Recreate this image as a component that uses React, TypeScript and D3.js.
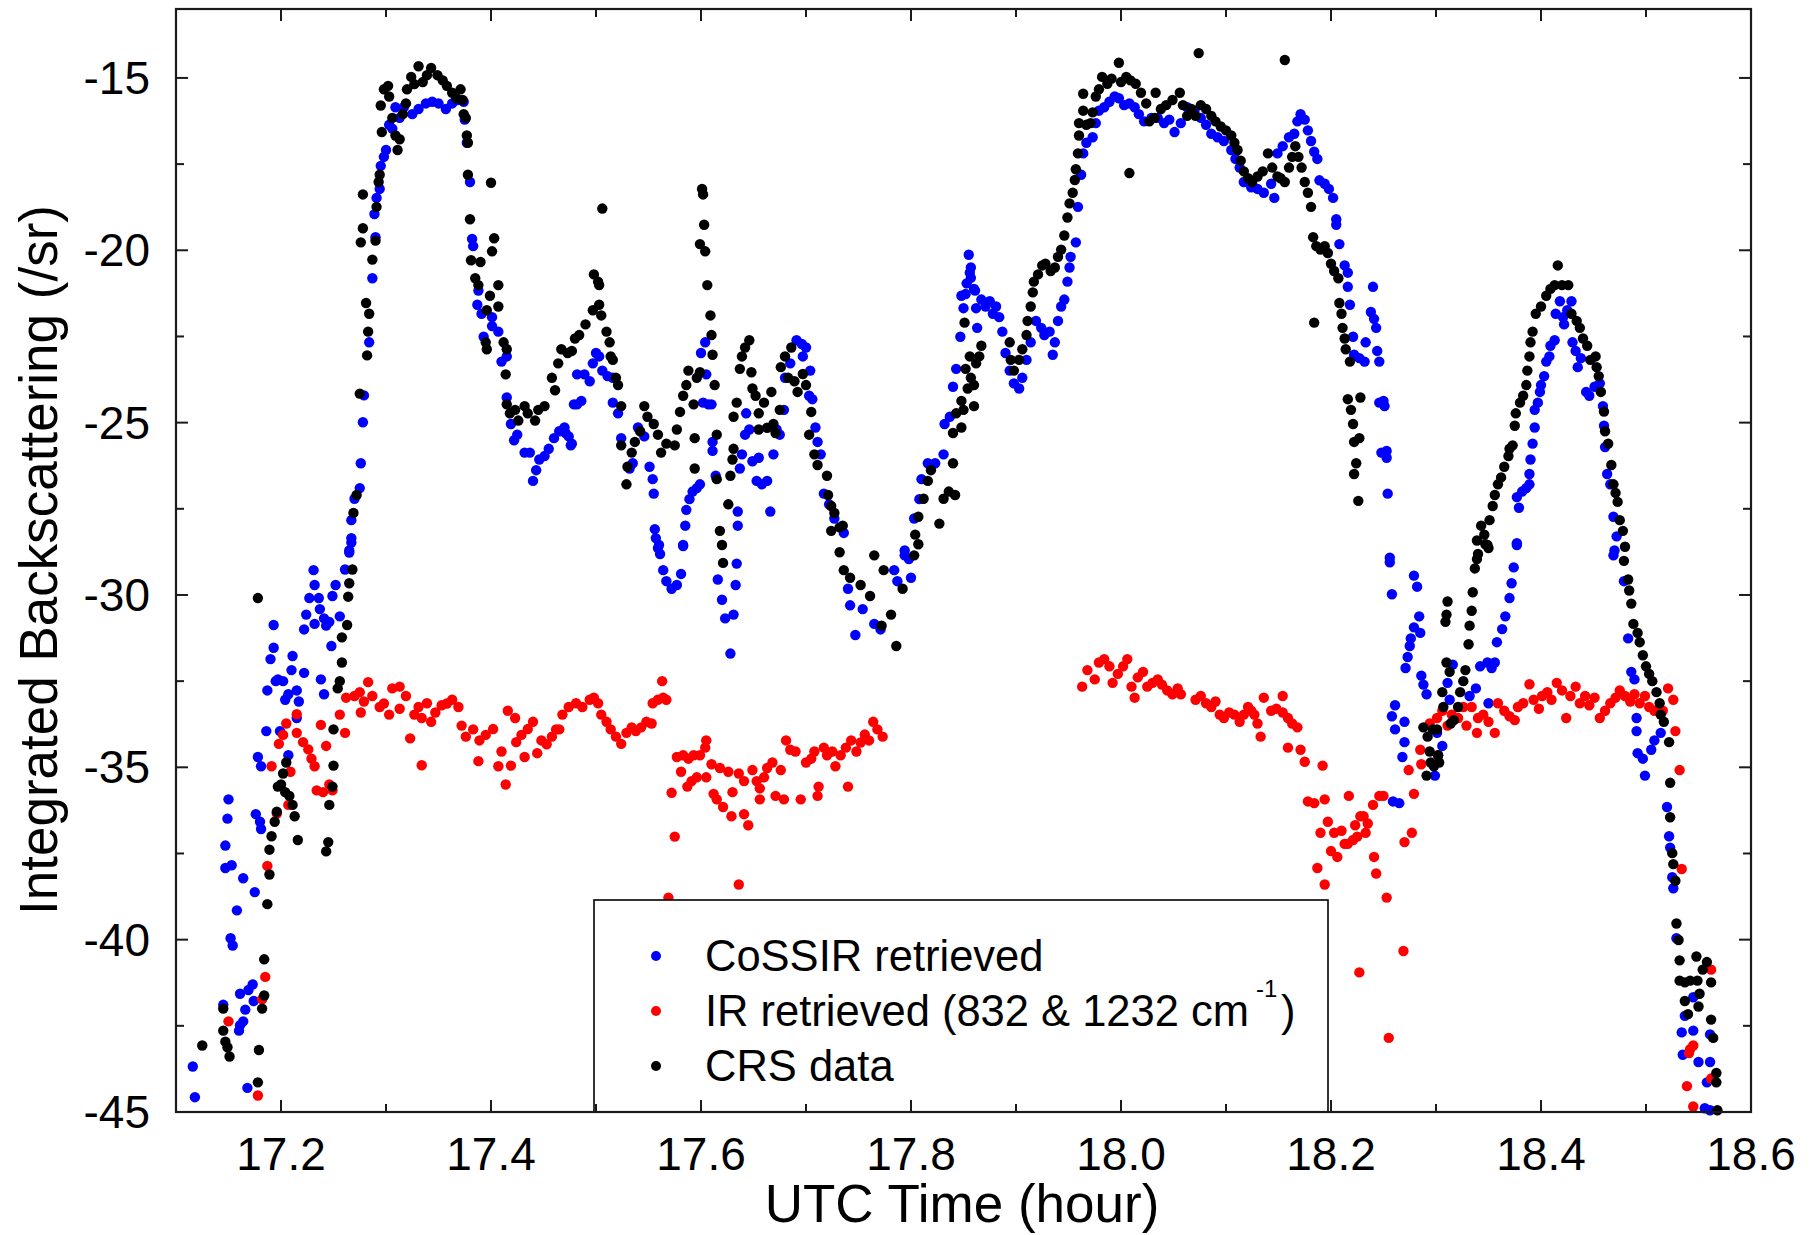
import React from 'react';
import * as d3 from 'd3';

// ---------- axis ticks ----------
const xMajorTicks = [17.2, 17.4, 17.6, 17.8, 18.0, 18.2, 18.4, 18.6];
const xTickLabels = ['17.2', '17.4', '17.6', '17.8', '18.0', '18.2', '18.4', '18.6'];
const xMinorTicks = [17.3, 17.5, 17.7, 17.9, 18.1, 18.3, 18.5];
const yMajorTicks = [-15, -20, -25, -30, -35, -40, -45];
const yTickLabels = ['-15', '-20', '-25', '-30', '-35', '-40', '-45'];
const yMinorTicks = [-17.5, -22.5, -27.5, -32.5, -37.5, -42.5];
const xDomain = [17.1, 18.6];
const yDomain = [-45, -13];

// ---------- series: [UTC hour, integrated backscattering] ----------
const cossirPoints: [number, number][] = [
  [17.116, -43.68], [17.118, -44.57], [17.145, -41.89], [17.16, -42.64], [17.161, -42.48], [17.164, -42.37],
  [17.166, -42.03], [17.161, -41.57], [17.169, -41.46], [17.173, -41.3], [17.174, -41.78], [17.168, -44.3],
  [17.15, -35.93], [17.149, -36.49], [17.147, -37.27], [17.147, -37.92], [17.153, -37.84], [17.164, -38.22],
  [17.175, -38.62], [17.158, -39.15], [17.152, -39.96], [17.154, -40.17], [17.193, -30.87], [17.193, -31.53],
  [17.19, -31.86], [17.197, -32.45], [17.187, -32.77], [17.195, -32.5], [17.202, -32.5], [17.204, -33.04],
  [17.207, -32.88], [17.211, -31.77], [17.21, -32.18], [17.222, -32.26], [17.215, -32.77], [17.217, -33.09],
  [17.215, -33.57], [17.186, -33.95], [17.199, -33.95], [17.207, -34.65], [17.178, -34.7], [17.181, -34.97],
  [17.176, -36.36], [17.18, -36.58], [17.181, -36.79], [17.231, -29.28], [17.232, -29.71], [17.227, -30.09],
  [17.236, -30.09], [17.237, -30.41], [17.224, -30.57], [17.222, -31.0], [17.232, -30.84], [17.241, -30.68],
  [17.246, -30.78], [17.243, -30.89], [17.249, -30.03], [17.252, -29.71], [17.256, -30.62], [17.248, -31.48],
  [17.261, -29.26], [17.265, -28.77], [17.267, -28.48], [17.238, -32.45], [17.241, -32.88],
  [17.265, -28.71], [17.267, -28.35], [17.267, -27.83], [17.27, -27.21], [17.275, -26.9], [17.276, -26.18],
  [17.278, -24.99], [17.279, -24.21], [17.284, -22.67], [17.287, -20.81], [17.29, -19.62], [17.289, -18.95],
  [17.291, -18.48], [17.294, -18.22], [17.295, -17.55], [17.298, -17.29], [17.3, -17.09], [17.303, -16.36],
  [17.306, -16.47], [17.309, -15.85], [17.313, -16.16], [17.317, -15.85], [17.325, -16.05], [17.331, -15.9],
  [17.338, -15.74], [17.344, -15.69], [17.35, -15.74], [17.357, -15.9], [17.363, -15.74], [17.368, -15.64],
  [17.374, -15.69], [17.375, -16.21], [17.377, -16.88], [17.38, -18.02], [17.382, -19.67], [17.383, -19.88],
  [17.388, -21.17], [17.387, -21.58], [17.391, -21.84], [17.393, -22.51], [17.401, -21.94], [17.401, -22.2],
  [17.407, -22.36], [17.41, -23.23], [17.415, -23.08], [17.415, -24.27], [17.419, -25.04], [17.422, -25.51],
  [17.425, -25.35], [17.432, -25.87], [17.437, -25.87], [17.44, -26.69], [17.443, -26.38], [17.446, -26.07],
  [17.451, -25.97], [17.455, -25.76], [17.46, -25.45], [17.465, -25.25], [17.471, -25.3], [17.476, -25.66],
  [17.479, -24.47], [17.482, -23.6], [17.47, -25.14], [17.474, -25.4], [17.477, -25.61], [17.482, -24.47],
  [17.486, -24.37], [17.489, -23.6], [17.494, -23.8], [17.497, -23.28], [17.5, -22.98], [17.503, -23.08],
  [17.506, -23.49], [17.511, -23.65], [17.516, -23.7], [17.516, -24.42], [17.521, -24.73], [17.524, -25.45],
  [17.532, -26.33], [17.535, -26.18], [17.54, -25.14], [17.546, -25.4], [17.551, -26.28], [17.554, -26.64],
  [17.555, -27.06], [17.556, -28.09], [17.557, -28.35], [17.56, -28.55], [17.561, -28.81], [17.583, -28.55],
  [17.585, -27.99], [17.586, -27.53], [17.589, -27.22], [17.592, -27.0], [17.596, -26.9], [17.599, -26.79],
  [17.602, -24.42], [17.607, -24.47], [17.61, -24.47], [17.605, -23.6], [17.6, -22.98], [17.604, -22.67],
  [17.611, -25.56], [17.611, -25.82], [17.614, -26.54], [17.635, -27.58], [17.635, -27.99], [17.637, -26.33],
  [17.639, -25.92], [17.642, -25.35], [17.643, -24.73], [17.646, -25.2], [17.649, -26.12], [17.655, -26.02],
  [17.653, -26.69], [17.658, -26.79], [17.663, -26.69], [17.666, -27.58], [17.669, -25.92], [17.672, -25.2],
  [17.675, -25.35], [17.679, -24.63], [17.68, -23.7], [17.685, -23.28], [17.691, -22.61], [17.696, -22.72],
  [17.7, -22.82], [17.697, -23.08], [17.704, -23.49], [17.703, -24.22], [17.706, -24.32], [17.709, -25.14],
  [17.711, -25.56], [17.714, -25.92], [17.717, -27.06], [17.722, -27.37], [17.727, -27.78], [17.736, -28.2],
  [17.559, -28.64], [17.564, -29.28], [17.567, -29.6], [17.572, -29.82], [17.577, -29.71], [17.581, -29.39],
  [17.583, -28.58], [17.616, -29.55], [17.62, -30.14], [17.623, -30.68], [17.631, -30.57], [17.628, -31.7],
  [17.633, -29.71], [17.634, -29.09], [17.74, -29.82], [17.742, -30.3], [17.747, -31.16], [17.754, -30.41],
  [17.765, -30.84], [17.771, -31.0], [17.784, -29.28], [17.787, -29.6], [17.794, -28.85], [17.8, -29.5],
  [17.798, -28.96], [17.794, -28.71], [17.803, -27.78], [17.808, -27.22], [17.81, -26.64], [17.816, -26.18],
  [17.823, -26.18], [17.831, -25.92], [17.832, -25.04], [17.837, -24.83], [17.84, -23.96], [17.843, -23.44],
  [17.847, -22.51], [17.85, -21.68], [17.852, -21.27], [17.853, -20.96], [17.856, -20.65], [17.855, -20.13],
  [17.861, -21.17], [17.862, -21.68], [17.848, -21.32], [17.857, -20.5], [17.857, -20.8], [17.86, -21.12],
  [17.863, -22.25], [17.867, -21.43], [17.871, -21.63], [17.875, -21.48], [17.878, -21.84], [17.881, -21.63],
  [17.884, -21.94], [17.887, -22.36], [17.89, -22.98], [17.894, -23.49], [17.898, -23.86], [17.903, -24.01],
  [17.906, -23.7], [17.91, -23.18], [17.914, -22.67], [17.919, -22.05], [17.924, -22.25], [17.927, -22.46],
  [17.932, -22.36], [17.935, -23.03], [17.937, -22.67], [17.94, -22.05], [17.943, -21.63], [17.946, -21.43],
  [17.949, -20.91], [17.951, -20.5], [17.952, -20.19], [17.957, -19.77], [17.959, -18.74], [17.962, -17.81],
  [17.964, -17.19], [17.967, -16.88], [17.973, -16.72], [17.976, -16.31], [17.979, -15.95], [17.984, -15.85],
  [17.989, -15.69], [17.994, -15.54], [17.998, -15.59], [18.003, -15.79], [18.008, -15.74], [18.013, -15.85],
  [18.017, -16.05], [18.022, -16.26], [18.029, -16.16], [18.035, -16.16], [18.041, -16.31], [18.046, -16.21],
  [18.051, -16.57], [18.057, -16.31], [18.063, -15.85], [18.07, -15.95], [18.076, -16.16], [18.081, -16.36],
  [18.086, -16.62], [18.092, -16.72], [18.098, -16.83], [18.105, -17.09], [18.109, -17.35], [18.113, -17.6],
  [18.117, -18.02], [18.124, -18.17], [18.13, -18.22], [18.136, -18.33], [18.143, -18.07], [18.146, -18.48],
  [18.149, -17.19], [18.154, -16.98], [18.16, -16.72], [18.165, -16.62], [18.168, -16.26], [18.171, -16.05],
  [18.175, -16.21], [18.178, -16.52], [18.181, -16.83], [18.184, -17.14], [18.187, -17.35], [18.189, -17.97],
  [18.194, -18.07], [18.198, -18.22], [18.202, -18.48], [18.205, -19.1], [18.205, -19.26], [18.208, -19.82],
  [18.213, -20.44], [18.216, -20.65], [18.216, -21.06], [18.218, -21.58], [18.221, -22.51], [18.222, -23.03],
  [18.227, -23.13], [18.232, -23.23], [18.233, -22.67], [18.238, -21.79], [18.241, -21.99], [18.243, -22.25],
  [18.24, -21.06], [18.244, -22.92], [18.246, -23.23], [18.246, -24.42], [18.248, -25.87], [18.25, -24.37],
  [18.251, -24.52], [18.253, -25.82], [18.253, -26.02], [18.254, -27.06], [18.256, -28.92], [18.377, -28.5],
  [18.379, -27.47], [18.377, -27.16], [18.382, -27.0], [18.386, -26.9], [18.389, -26.79], [18.389, -26.49],
  [18.39, -26.07], [18.392, -25.61], [18.394, -25.14], [18.394, -24.63], [18.397, -24.42], [18.399, -24.11],
  [18.4, -23.91], [18.403, -23.65], [18.405, -23.23], [18.408, -23.08], [18.409, -22.77], [18.413, -22.61],
  [18.414, -21.84], [18.418, -21.48], [18.421, -21.94], [18.422, -22.15], [18.425, -21.74], [18.429, -21.48],
  [18.43, -22.67], [18.433, -22.92], [18.435, -23.39], [18.438, -23.13], [18.443, -24.11], [18.446, -24.22],
  [18.451, -23.96], [18.456, -23.86], [18.459, -24.52], [18.46, -25.09], [18.461, -25.71], [18.463, -26.49],
  [18.466, -26.79], [18.469, -27.73], [18.472, -28.3], [18.47, -28.71], [18.256, -29.05], [18.258, -29.98],
  [18.279, -29.44], [18.282, -29.76], [18.284, -30.62], [18.279, -30.94], [18.285, -31.1], [18.276, -31.26],
  [18.275, -31.48], [18.273, -31.8], [18.271, -32.12], [18.286, -32.34], [18.288, -32.6], [18.291, -32.88],
  [18.261, -33.2], [18.258, -33.52], [18.27, -33.68], [18.261, -33.9], [18.27, -34.27], [18.268, -34.7],
  [18.259, -35.99], [18.265, -36.04], [18.301, -34.0], [18.306, -34.38], [18.302, -34.65], [18.299, -35.24],
  [18.311, -32.55], [18.313, -33.04], [18.316, -32.02], [18.332, -32.93], [18.338, -32.71], [18.342, -32.07],
  [18.349, -31.96], [18.353, -32.12], [18.356, -31.96], [18.358, -31.37], [18.363, -30.99], [18.366, -30.62],
  [18.37, -30.09], [18.372, -29.66], [18.374, -29.2], [18.377, -28.55], [18.35, -33.14], [18.469, -28.85],
  [18.479, -29.6], [18.483, -31.26], [18.486, -32.23], [18.489, -32.45], [18.491, -33.57], [18.491, -33.95],
  [18.492, -34.59], [18.497, -34.75], [18.499, -35.24], [18.505, -34.49], [18.508, -34.22], [18.514, -34.0],
  [18.52, -36.15], [18.522, -37.0], [18.523, -37.33], [18.525, -38.19], [18.526, -38.51], [18.529, -39.96],
  [18.545, -41.67], [18.537, -42.21], [18.534, -42.69], [18.545, -42.64], [18.535, -43.34], [18.55, -43.55],
  [18.561, -42.75], [18.561, -43.55], [18.558, -44.14], [18.556, -44.89], [18.561, -44.95],
];

const irPoints: [number, number][] = [
  [17.15, -42.37], [17.178, -44.52], [17.185, -41.08], [17.182, -41.73], [17.187, -37.86], [17.196, -36.34],
  [17.191, -34.97], [17.198, -34.32], [17.202, -34.06], [17.205, -33.73], [17.209, -35.13], [17.207, -36.09],
  [17.215, -33.46], [17.215, -34.0], [17.221, -34.27], [17.226, -34.48], [17.229, -34.75], [17.232, -34.97],
  [17.234, -35.67], [17.24, -35.72], [17.246, -35.5], [17.249, -35.67], [17.238, -33.77], [17.243, -34.38],
  [17.256, -33.47], [17.261, -34.0], [17.262, -32.98], [17.27, -32.93], [17.275, -32.82], [17.276, -33.41],
  [17.279, -33.09], [17.283, -32.53], [17.287, -32.93], [17.294, -33.25], [17.298, -33.15], [17.303, -33.47],
  [17.306, -32.71], [17.313, -32.66], [17.319, -32.93], [17.313, -33.3], [17.323, -34.16], [17.327, -33.47],
  [17.331, -33.25], [17.334, -33.57], [17.339, -33.14], [17.334, -34.94], [17.343, -33.68], [17.347, -33.41],
  [17.353, -33.2], [17.358, -33.15], [17.363, -33.04], [17.369, -33.25], [17.372, -33.79], [17.376, -34.11],
  [17.383, -33.9], [17.388, -34.82], [17.389, -34.22], [17.395, -34.06], [17.402, -33.89], [17.407, -34.97],
  [17.41, -34.54], [17.414, -35.5], [17.419, -34.95], [17.416, -33.36], [17.423, -33.57], [17.424, -34.27],
  [17.429, -34.06], [17.432, -34.7], [17.435, -33.89], [17.44, -33.68], [17.444, -34.59], [17.448, -34.22],
  [17.453, -34.33], [17.458, -34.11], [17.462, -33.9], [17.465, -33.9], [17.468, -33.47], [17.474, -33.25],
  [17.481, -33.14], [17.487, -33.25], [17.494, -33.04], [17.498, -32.98], [17.502, -33.14], [17.505, -33.47],
  [17.51, -33.68], [17.514, -33.9], [17.519, -34.11], [17.524, -34.32], [17.529, -34.0], [17.534, -33.84],
  [17.538, -33.95], [17.543, -33.84], [17.548, -33.68], [17.553, -33.73], [17.554, -33.14], [17.559, -33.04],
  [17.564, -32.98], [17.563, -32.5], [17.567, -33.04], [17.572, -35.74], [17.575, -37.01], [17.569, -38.78],
  [17.577, -34.7], [17.583, -34.65], [17.581, -35.13], [17.588, -34.75], [17.593, -34.65], [17.587, -35.56],
  [17.591, -35.4], [17.596, -35.29], [17.599, -34.65], [17.604, -34.43], [17.605, -34.22], [17.605, -35.29],
  [17.61, -34.91], [17.612, -35.77], [17.615, -35.93], [17.618, -35.02], [17.621, -36.15], [17.626, -35.13],
  [17.629, -36.42], [17.63, -35.72], [17.636, -35.18], [17.636, -38.4], [17.641, -36.36], [17.645, -36.68],
  [17.641, -35.4], [17.649, -35.08], [17.653, -35.4], [17.656, -35.61], [17.656, -35.93], [17.66, -35.29],
  [17.663, -35.02], [17.668, -34.86], [17.671, -35.83], [17.676, -35.08], [17.679, -35.93], [17.681, -34.22],
  [17.685, -34.49], [17.69, -34.54], [17.695, -35.93], [17.7, -34.86], [17.705, -34.75], [17.708, -34.54],
  [17.711, -35.83], [17.712, -35.56], [17.717, -34.43], [17.72, -34.65], [17.725, -34.54], [17.728, -34.97],
  [17.733, -34.65], [17.738, -34.43], [17.74, -35.56], [17.743, -34.22], [17.748, -34.54], [17.752, -34.28],
  [17.756, -34.05], [17.76, -34.22], [17.764, -33.68], [17.768, -33.9], [17.773, -34.11],
  [17.963, -32.66], [17.968, -32.18], [17.975, -32.45], [17.979, -31.96], [17.984, -31.86], [17.989, -32.07],
  [17.992, -32.55], [17.997, -32.29], [18.002, -32.07], [18.006, -31.86], [18.01, -32.66], [18.013, -32.98],
  [18.016, -32.39], [18.021, -32.23], [18.025, -32.66], [18.03, -32.55], [18.035, -32.45], [18.039, -32.6],
  [18.044, -32.77], [18.049, -32.88], [18.054, -32.71], [18.057, -32.88], [18.071, -33.04], [18.076, -32.93],
  [18.081, -33.14], [18.086, -33.25], [18.09, -33.09], [18.094, -33.47], [18.098, -33.57], [18.103, -33.41],
  [18.108, -33.47], [18.113, -33.68], [18.117, -33.47], [18.121, -33.25], [18.124, -33.36], [18.127, -33.47],
  [18.13, -33.73], [18.133, -34.11], [18.136, -32.98], [18.143, -33.36], [18.148, -33.3], [18.154, -32.93],
  [18.154, -33.41], [18.159, -33.57], [18.163, -33.73], [18.168, -33.84], [18.159, -34.43], [18.171, -34.49],
  [18.175, -34.84], [18.192, -34.95], [18.178, -35.99], [18.184, -36.04], [18.194, -35.93], [18.197, -36.58],
  [18.19, -36.9], [18.2, -37.43], [18.206, -37.6], [18.187, -37.92], [18.194, -38.4], [18.203, -36.9],
  [18.21, -36.84], [18.216, -37.22], [18.221, -37.11], [18.217, -35.83], [18.225, -37.01], [18.228, -36.42],
  [18.233, -36.9], [18.235, -36.63], [18.24, -36.09], [18.241, -37.6], [18.243, -38.08], [18.246, -35.83],
  [18.227, -40.95], [18.213, -37.22], [18.223, -36.68], [18.231, -36.42], [18.25, -35.83], [18.253, -38.78],
  [18.269, -40.33], [18.255, -42.85], [18.27, -37.17], [18.277, -36.9], [18.279, -35.77], [18.274, -35.08],
  [18.286, -34.91], [18.285, -34.49], [18.294, -33.73], [18.301, -33.57], [18.306, -33.36], [18.311, -33.79],
  [18.315, -33.47], [18.321, -33.57], [18.326, -33.25], [18.329, -33.79], [18.334, -33.25], [18.339, -34.0],
  [18.34, -33.57], [18.345, -33.47], [18.35, -33.68], [18.356, -34.0], [18.359, -33.14], [18.365, -33.36],
  [18.37, -33.52], [18.375, -33.63], [18.378, -33.25], [18.383, -33.14], [18.389, -32.59], [18.393, -33.04],
  [18.398, -33.3], [18.401, -32.93], [18.406, -32.82], [18.41, -33.04], [18.415, -32.55], [18.42, -32.77],
  [18.424, -33.57], [18.428, -32.93], [18.433, -32.66], [18.437, -33.14], [18.442, -32.93], [18.446, -33.2],
  [18.451, -32.98], [18.456, -33.57], [18.461, -33.36], [18.466, -33.14], [18.471, -32.98], [18.475, -32.77],
  [18.48, -32.93], [18.485, -33.09], [18.489, -32.88], [18.494, -33.14], [18.499, -32.93], [18.503, -33.25],
  [18.508, -33.36], [18.516, -33.36], [18.521, -32.71], [18.526, -33.04], [18.528, -33.95], [18.532, -35.08],
  [18.534, -37.95], [18.542, -43.18], [18.545, -43.07], [18.541, -43.29], [18.539, -44.25], [18.545, -44.84],
  [18.562, -44.03], [18.562, -40.87],
];

const crsPoints: [number, number][] = [
  [17.125, -43.07], [17.145, -42.0], [17.145, -42.64], [17.147, -42.96], [17.149, -43.12], [17.151, -43.39],
  [17.178, -30.09], [17.179, -43.2], [17.178, -44.14], [17.184, -40.57], [17.184, -41.62], [17.182, -42.0],
  [17.187, -38.97], [17.189, -38.11], [17.189, -37.39], [17.191, -37.0], [17.194, -36.58], [17.196, -36.29],
  [17.197, -35.56], [17.2, -35.5], [17.204, -35.72], [17.202, -35.18], [17.205, -34.86], [17.208, -35.83],
  [17.211, -36.09], [17.213, -36.42], [17.216, -37.11], [17.243, -37.44], [17.245, -37.17], [17.246, -36.09],
  [17.249, -35.56], [17.25, -34.95], [17.25, -33.9], [17.254, -32.71], [17.256, -32.5], [17.258, -31.96],
  [17.258, -31.23], [17.263, -30.87], [17.264, -30.05], [17.265, -29.66], [17.268, -29.26],
  [17.269, -27.62], [17.272, -27.1], [17.275, -24.16], [17.276, -19.77], [17.278, -19.36], [17.278, -18.38],
  [17.282, -23.05], [17.283, -22.36], [17.284, -21.84], [17.281, -21.53], [17.287, -20.27], [17.29, -19.72],
  [17.291, -18.74], [17.293, -18.02], [17.294, -17.81], [17.295, -15.8], [17.296, -16.57], [17.298, -15.33],
  [17.302, -15.23], [17.303, -15.54], [17.306, -16.16], [17.309, -16.67], [17.311, -17.09], [17.313, -16.78],
  [17.316, -16.05], [17.319, -15.74], [17.32, -15.33], [17.324, -14.97], [17.327, -15.18], [17.331, -14.66],
  [17.335, -15.12], [17.339, -14.92], [17.343, -14.71], [17.349, -14.92], [17.354, -15.07], [17.358, -15.23],
  [17.363, -15.43], [17.367, -15.59], [17.371, -15.33], [17.373, -15.64], [17.374, -16.05], [17.376, -16.16],
  [17.377, -16.67], [17.378, -16.88], [17.378, -17.81], [17.38, -19.1], [17.4, -18.04], [17.381, -20.29],
  [17.39, -20.34], [17.385, -20.81], [17.388, -21.01], [17.403, -19.65], [17.401, -20.03], [17.396, -21.74],
  [17.399, -21.32], [17.407, -21.01], [17.407, -21.63], [17.395, -22.67], [17.396, -22.87], [17.412, -22.67],
  [17.415, -22.87], [17.414, -23.6], [17.415, -24.47], [17.418, -24.73], [17.423, -24.63], [17.426, -24.94],
  [17.432, -24.52], [17.435, -24.73], [17.442, -24.94], [17.445, -24.63], [17.451, -24.52], [17.458, -23.7],
  [17.461, -24.06], [17.464, -23.28], [17.467, -22.87], [17.473, -22.98], [17.48, -22.56], [17.477, -22.92],
  [17.484, -22.46], [17.49, -22.15], [17.497, -21.74], [17.498, -20.7], [17.502, -20.91], [17.503, -21.01],
  [17.506, -18.79], [17.503, -21.58], [17.505, -21.89], [17.51, -22.36], [17.513, -22.67], [17.514, -23.08],
  [17.516, -23.18], [17.519, -23.7], [17.521, -23.91], [17.524, -24.52], [17.524, -25.66], [17.529, -26.79],
  [17.53, -26.28], [17.534, -25.87], [17.537, -25.56], [17.542, -25.25], [17.546, -24.52], [17.549, -24.83],
  [17.555, -25.04], [17.559, -25.35], [17.562, -25.87], [17.567, -25.61], [17.575, -25.66], [17.577, -25.2],
  [17.58, -24.69], [17.583, -24.22], [17.586, -23.91], [17.588, -23.49], [17.593, -24.47], [17.594, -25.45],
  [17.594, -26.33], [17.596, -23.7], [17.599, -23.54], [17.601, -18.22], [17.602, -18.38], [17.603, -19.26],
  [17.599, -19.82], [17.604, -20.03], [17.606, -21.01], [17.609, -21.89], [17.61, -22.46], [17.611, -23.03],
  [17.613, -23.91], [17.615, -25.35], [17.615, -26.64], [17.618, -28.14], [17.62, -28.55], [17.621, -29.07],
  [17.626, -27.37], [17.628, -26.54], [17.63, -26.07], [17.631, -25.76], [17.631, -24.83], [17.634, -24.42],
  [17.637, -23.44], [17.639, -23.08], [17.642, -22.82], [17.646, -22.61], [17.648, -23.54], [17.649, -24.01],
  [17.652, -24.22], [17.655, -24.73], [17.655, -25.2], [17.66, -24.42], [17.663, -25.15], [17.667, -24.11],
  [17.669, -25.04], [17.671, -25.3], [17.675, -24.63], [17.676, -23.39], [17.68, -23.08], [17.683, -23.7],
  [17.686, -22.82], [17.689, -23.8], [17.692, -24.11], [17.697, -23.59], [17.7, -23.91], [17.705, -24.69],
  [17.703, -25.35], [17.708, -25.92], [17.711, -26.23], [17.72, -26.54], [17.721, -27.1], [17.724, -27.42],
  [17.727, -27.62], [17.732, -28.04], [17.735, -27.99], [17.724, -28.14], [17.732, -28.76], [17.736, -29.28],
  [17.742, -29.5], [17.752, -29.71], [17.761, -30.03], [17.772, -30.89], [17.786, -31.48], [17.781, -30.57],
  [17.792, -29.82], [17.803, -28.85], [17.807, -28.53], [17.765, -28.85], [17.774, -29.28], [17.804, -28.25],
  [17.807, -27.73], [17.812, -27.21], [17.816, -26.69], [17.819, -26.38], [17.827, -27.93], [17.831, -27.21],
  [17.836, -27.0], [17.84, -26.18], [17.842, -27.1], [17.84, -25.3], [17.843, -24.73], [17.848, -24.37],
  [17.851, -22.1], [17.852, -23.44], [17.856, -23.08], [17.86, -23.91], [17.848, -25.14], [17.85, -24.63],
  [17.854, -24.01], [17.857, -23.7], [17.86, -24.52], [17.862, -23.28], [17.865, -23.08], [17.867, -22.77],
  [17.894, -22.67], [17.895, -23.18], [17.898, -23.49], [17.903, -23.18], [17.906, -22.87], [17.91, -22.46],
  [17.911, -22.05], [17.914, -21.63], [17.916, -21.22], [17.917, -20.91], [17.921, -20.7], [17.925, -20.44],
  [17.928, -20.39], [17.933, -20.6], [17.937, -20.5], [17.94, -20.19], [17.943, -19.98], [17.946, -19.57],
  [17.949, -19.05], [17.951, -18.64], [17.954, -18.33], [17.956, -17.96], [17.957, -17.65], [17.959, -17.19],
  [17.96, -16.67], [17.96, -16.31], [17.964, -15.95], [17.964, -15.46], [17.967, -16.36], [17.971, -16.31],
  [17.973, -16.0], [17.976, -15.54], [17.979, -15.33], [17.982, -14.97], [17.987, -15.17], [17.991, -15.02],
  [17.998, -14.56], [18.0, -15.12], [18.005, -14.97], [18.008, -17.76], [18.009, -15.07], [18.014, -15.17],
  [18.019, -15.43], [18.024, -15.74], [18.027, -16.26], [18.032, -16.16], [18.033, -15.43], [18.038, -15.9],
  [18.043, -15.79], [18.049, -15.64], [18.056, -15.43], [18.059, -15.79], [18.063, -16.1], [18.067, -15.9],
  [18.071, -16.1], [18.074, -14.28], [18.076, -15.79], [18.081, -15.9], [18.086, -16.1], [18.09, -16.26],
  [18.095, -16.41], [18.1, -16.52], [18.105, -16.67], [18.108, -16.88], [18.111, -17.09], [18.114, -17.4],
  [18.117, -17.71], [18.121, -17.91], [18.125, -18.02], [18.13, -17.86], [18.135, -17.71], [18.14, -17.19],
  [18.144, -17.6], [18.149, -17.86], [18.152, -17.91], [18.156, -14.48], [18.156, -18.02], [18.16, -17.6],
  [18.163, -17.29], [18.166, -16.98], [18.169, -17.29], [18.172, -17.6], [18.175, -18.02], [18.178, -18.33],
  [18.181, -18.74], [18.183, -19.62], [18.186, -19.88], [18.19, -19.98], [18.194, -19.88], [18.197, -20.08],
  [18.2, -20.39], [18.203, -20.6], [18.207, -20.81], [18.184, -22.1], [18.208, -21.53], [18.21, -21.84],
  [18.211, -22.25], [18.213, -22.56], [18.214, -22.87], [18.218, -23.23], [18.216, -24.32], [18.219, -24.63],
  [18.221, -25.04], [18.222, -25.56], [18.227, -25.45], [18.224, -26.18], [18.222, -26.49], [18.226, -27.27],
  [18.228, -24.27], [18.34, -28.81], [18.343, -27.99], [18.346, -28.25], [18.349, -28.55], [18.351, -27.83],
  [18.354, -27.42], [18.356, -27.1], [18.359, -26.79], [18.362, -26.59], [18.365, -26.28], [18.369, -25.97],
  [18.37, -25.76], [18.373, -25.66], [18.375, -25.09], [18.376, -24.73], [18.38, -24.42], [18.383, -24.22],
  [18.386, -23.91], [18.387, -23.49], [18.389, -23.08], [18.39, -22.67], [18.392, -22.36], [18.395, -21.84],
  [18.4, -21.63], [18.405, -21.32], [18.409, -21.12], [18.413, -21.01], [18.416, -20.44], [18.42, -21.01],
  [18.426, -21.01], [18.429, -21.84], [18.434, -22.05], [18.437, -22.25], [18.44, -22.56], [18.444, -22.77],
  [18.447, -23.18], [18.452, -23.08], [18.453, -23.39], [18.455, -23.65], [18.457, -24.11], [18.46, -24.68],
  [18.461, -25.25], [18.464, -25.61], [18.467, -26.23], [18.469, -26.79], [18.471, -27.04], [18.473, -27.3],
  [18.475, -27.83], [18.478, -28.14], [18.48, -28.6], [18.339, -28.42], [18.339, -28.96], [18.337, -29.23],
  [18.335, -29.92], [18.334, -30.46], [18.332, -30.89], [18.331, -31.43], [18.328, -32.18], [18.326, -32.5],
  [18.323, -32.82], [18.321, -33.25], [18.317, -33.63], [18.314, -33.73], [18.311, -30.19], [18.31, -30.57],
  [18.309, -30.78], [18.31, -31.96], [18.313, -32.23], [18.306, -32.82], [18.307, -33.25], [18.301, -33.9],
  [18.297, -33.9], [18.288, -33.84], [18.292, -34.11], [18.294, -34.54], [18.302, -34.65], [18.295, -34.86],
  [18.298, -34.97], [18.291, -35.24], [18.303, -34.86], [18.347, -28.53], [18.35, -28.64], [18.479, -29.01],
  [18.483, -29.55], [18.484, -29.87], [18.486, -30.25], [18.488, -30.84], [18.492, -31.1], [18.494, -31.37],
  [18.497, -31.75], [18.5, -32.07], [18.503, -32.29], [18.506, -32.5], [18.51, -32.82], [18.513, -33.14],
  [18.514, -33.47], [18.517, -33.68], [18.522, -34.27], [18.523, -35.45], [18.523, -36.45], [18.525, -37.49],
  [18.526, -37.81], [18.528, -38.29], [18.529, -39.53], [18.531, -40.01], [18.532, -40.6], [18.532, -41.19],
  [18.537, -41.24], [18.542, -41.19], [18.548, -40.49], [18.549, -41.19], [18.554, -40.87], [18.558, -40.65],
  [18.562, -41.24], [18.537, -41.78], [18.54, -42.16], [18.551, -41.57], [18.55, -41.94], [18.562, -42.32],
  [18.564, -42.85], [18.567, -43.87], [18.567, -44.14], [18.568, -44.95],
];

const seriesNames = ['CoSSIR retrieved', 'IR retrieved (832 & 1232 cm', 'CRS data'];
const seriesColors = ['#0000ff', '#ff0000', '#000000'];
const superscriptText = '-1';
const closingText = ')';

const W = 1812;
const H = 1235;
const M = { left: 176, top: 9, right: 1751, bottom: 1112 };
const FONT = '"Liberation Sans", Arial, Helvetica, sans-serif';

export default function App() {
  React.useEffect(() => {
    document.body.style.margin = '0';
  }, []);
  const x = d3.scaleLinear().domain(xDomain).range([M.left, M.right]);
  const y = d3.scaleLinear().domain(yDomain).range([M.bottom, M.top]);
  const r = 5.2;
  const allSeries = [cossirPoints, irPoints, crsPoints];
  const drawOrder = [0, 1, 2];
  const majorLen = 12;
  const minorLen = 8;
  const axisColor = '#1a1a1a';

  const legendBox = { x0: 594, y0: 900, x1: 1328, y1: M.bottom };
  const legendRows = [956, 1011, 1066];
  const legendFont = 43.5;

  return (
    <svg width={W} height={H} style={{ position: 'absolute', left: 0, top: 0, background: '#fff' }} fontFamily={FONT}>
      <rect x={0} y={0} width={W} height={H} fill="#fff" />
      {/* data */}
      {drawOrder.map((si) => (
        <g key={si} fill={seriesColors[si]}>
          {allSeries[si].map((p, i) => (
            <circle key={i} cx={x(p[0])} cy={y(p[1])} r={r} />
          ))}
        </g>
      ))}
      {/* legend */}
      <rect x={legendBox.x0} y={legendBox.y0} width={legendBox.x1 - legendBox.x0} height={legendBox.y1 - legendBox.y0}
        fill="#fff" stroke="#000" strokeWidth={1.6} />
      {seriesNames.map((name, i) => (
        <g key={name}>
          <circle cx={656} cy={legendRows[i]} r={5} fill={seriesColors[i]} />
          <text x={705} y={legendRows[i] + 15} fontSize={legendFont} fill="#000">{name}</text>
        </g>
      ))}
      <text x={1256} y={legendRows[1] - 14} fontSize={24} fill="#000">{superscriptText}</text>
      <text x={1281} y={legendRows[1] + 15} fontSize={legendFont} fill="#000">{closingText}</text>
      {/* frame */}
      <rect x={M.left} y={M.top} width={M.right - M.left} height={M.bottom - M.top} fill="none" stroke={axisColor} strokeWidth={2.2} />
      {/* x ticks */}
      {xMajorTicks.map((t) => (
        <g key={'xm' + t}>
          <line x1={x(t)} x2={x(t)} y1={M.bottom} y2={M.bottom - majorLen} stroke={axisColor} strokeWidth={2} />
          <line x1={x(t)} x2={x(t)} y1={M.top} y2={M.top + majorLen} stroke={axisColor} strokeWidth={2} />
        </g>
      ))}
      {xMinorTicks.map((t) => (
        <g key={'xn' + t}>
          <line x1={x(t)} x2={x(t)} y1={M.bottom} y2={M.bottom - minorLen} stroke={axisColor} strokeWidth={2} />
          <line x1={x(t)} x2={x(t)} y1={M.top} y2={M.top + minorLen} stroke={axisColor} strokeWidth={2} />
        </g>
      ))}
      {xMajorTicks.map((t, i) => (
        <text key={'xl' + t} x={x(t)} y={1170} fontSize={46} textAnchor="middle" fill="#000">{xTickLabels[i]}</text>
      ))}
      {/* y ticks */}
      {yMajorTicks.map((t) => (
        <g key={'ym' + t}>
          <line x1={M.left} x2={M.left + majorLen} y1={y(t)} y2={y(t)} stroke={axisColor} strokeWidth={2} />
          <line x1={M.right} x2={M.right - majorLen} y1={y(t)} y2={y(t)} stroke={axisColor} strokeWidth={2} />
        </g>
      ))}
      {yMinorTicks.map((t) => (
        <g key={'yn' + t}>
          <line x1={M.left} x2={M.left + minorLen} y1={y(t)} y2={y(t)} stroke={axisColor} strokeWidth={2} />
          <line x1={M.right} x2={M.right - minorLen} y1={y(t)} y2={y(t)} stroke={axisColor} strokeWidth={2} />
        </g>
      ))}
      {yMajorTicks.map((t, i) => (
        <text key={'yl' + t} x={150} y={y(t) + 16} fontSize={46} textAnchor="end" fill="#000">{yTickLabels[i]}</text>
      ))}
      {/* axis titles */}
      <text x={962} y={1222} fontSize={53} textAnchor="middle" fill="#000">UTC Time (hour)</text>
      <text transform={`translate(57,560) rotate(-90)`} fontSize={53} textAnchor="middle" fill="#000">
        Integrated Backscattering (/sr)
      </text>
    </svg>
  );
}
